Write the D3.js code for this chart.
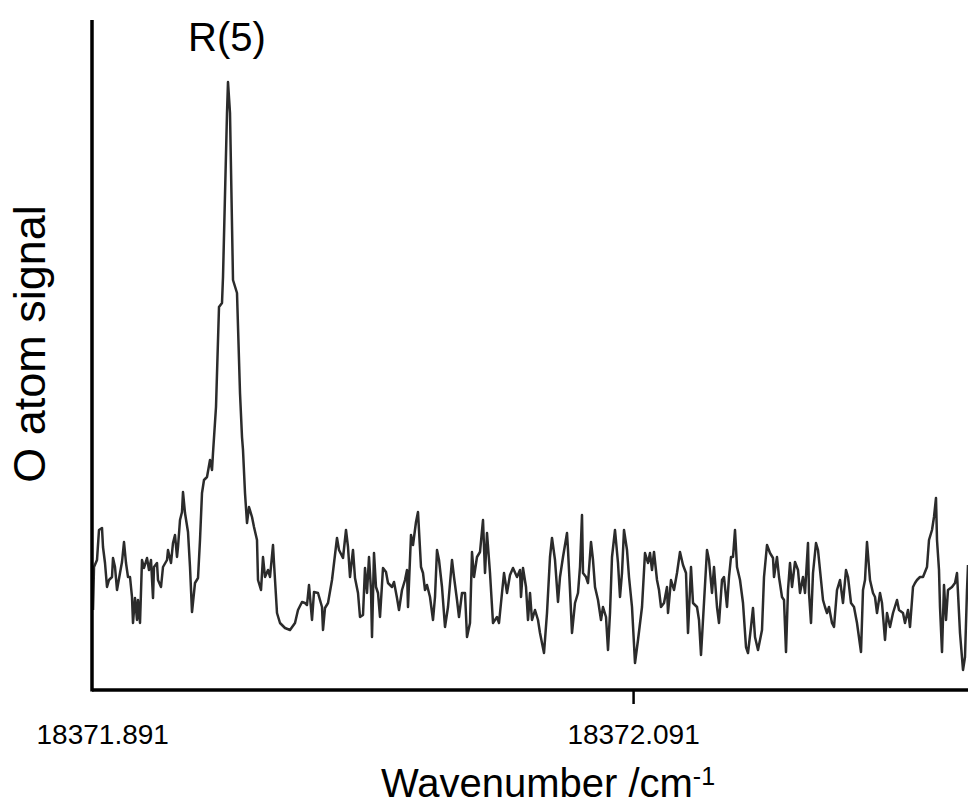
<!DOCTYPE html>
<html>
<head>
<meta charset="utf-8">
<script src="https://cdn.jsdelivr.net/npm/d3@7"></script>
<style>
  body { margin: 0; background: #fff; }
  text { font-family: "Liberation Sans", Arial, sans-serif; fill: #000; }
</style>
</head>
<body>
<div id="chart"></div>
<script>
// Dimensions of the graph
const width = 968;
const height = 807;
const margin = { top: 20, right: 0, bottom: 117, left: 92 };

// Scan step (detector channel) and O atom signal (arb. units)
const scanStep = [
  0, 1, 4, 6, 9, 10, 12, 14, 16, 19, 20, 22, 24, 27, 29, 31, 33, 35, 37, 39,
  40, 42, 44, 45, 47, 49, 51, 54, 56, 58, 60, 61, 64, 65, 68, 70, 74, 75, 78, 80,
  82, 84, 85, 87, 89, 90, 92, 95, 97, 99, 102, 105, 107, 109, 111, 114, 117, 119, 120, 123,
  126, 129, 130, 134, 135, 137, 140, 144, 147, 149, 150, 152, 154, 156, 159, 161, 164, 165, 168, 170,
  172, 175, 177, 180, 181, 184, 187, 192, 197, 202, 205, 209, 212, 214, 216, 219, 221, 225, 229, 230,
  232, 235, 239, 244, 246, 250, 253, 255, 257, 260, 262, 265, 267, 270, 272, 274, 276, 278, 279, 281,
  283, 285, 287, 290, 293, 295, 299, 301, 304, 306, 309, 312, 314, 315, 318, 320, 323, 325, 328, 330,
  332, 334, 337, 340, 342, 344, 346, 349, 352, 355, 359, 361, 364, 366, 369, 372, 374, 377, 379, 381,
  384, 387, 390, 392, 394, 397, 400, 404, 406, 409, 411, 414, 417, 420, 424, 427, 428, 430, 433, 435,
  437, 439, 442, 445, 447, 451, 454, 457, 459, 462, 465, 467, 470, 474, 475, 477, 479, 482, 485, 487,
  489, 490, 493, 495, 498, 500, 502, 505, 508, 510, 513, 515, 517, 519, 522, 525, 527, 529, 531, 534,
  536, 539, 542, 545, 549, 552, 555, 557, 559, 561, 564, 566, 568, 571, 574, 575, 578, 581, 584, 587,
  590, 593, 595, 598, 600, 604, 606, 608, 610, 614, 616, 619, 621, 624, 626, 629, 631, 634, 636, 638,
  640, 642, 644, 647, 650, 653, 655, 658, 660, 662, 665, 669, 671, 674, 677, 680, 681, 684, 686, 689,
  691, 693, 695, 697, 699, 702, 705, 707, 710, 712, 715, 716, 718, 720, 723, 725, 728, 730, 732, 734,
  736, 739, 741, 744, 747, 750, 753, 755, 758, 761, 764, 768, 770, 772, 774, 777, 780, 782, 784, 787,
  789, 792, 794, 797, 800, 804, 806, 810, 812, 815, 817, 820, 822, 824, 827, 830, 834, 836, 839, 841,
  843, 844, 846, 847, 849, 851, 853, 855, 859, 862, 864, 867, 870, 872, 874, 875
];
const signal = [
  78, 121, 128, 158, 160, 141, 125, 101, 108, 111, 130, 121, 98, 115, 126, 146, 125, 111, 111, 91,
  65, 90, 68, 88, 65, 128, 120, 130, 118, 128, 90, 121, 125, 108, 101, 121, 128, 138, 125, 145,
  153, 131, 141, 168, 176, 196, 175, 156, 121, 76, 105, 110, 148, 195, 208, 211, 228, 218, 235, 281,
  381, 385, 411, 575, 606, 575, 408, 395, 295, 251, 238, 195, 165, 181, 171, 161, 148, 108, 98, 131,
  111, 118, 111, 143, 125, 75, 65, 60, 58, 65, 78, 86, 85, 83, 103, 68, 96, 95, 81, 58,
  80, 85, 108, 150, 138, 130, 158, 141, 111, 138, 110, 95, 71, 73, 120, 95, 131, 98, 51, 135,
  101, 95, 71, 120, 116, 105, 101, 106, 90, 78, 98, 108, 118, 81, 153, 143, 166, 176, 121, 115,
  98, 103, 91, 68, 91, 138, 128, 101, 61, 81, 128, 111, 88, 71, 95, 95, 51, 65, 136, 111,
  131, 136, 168, 115, 155, 115, 65, 71, 65, 95, 115, 95, 113, 120, 111, 118, 91, 120, 101, 68,
  95, 68, 78, 68, 55, 35, 75, 131, 150, 128, 86, 111, 131, 155, 138, 98, 55, 85, 95, 121,
  173, 115, 111, 105, 146, 128, 101, 88, 68, 81, 71, 38, 75, 131, 158, 125, 91, 115, 158, 138,
  111, 81, 25, 48, 81, 135, 125, 135, 118, 136, 108, 98, 81, 85, 101, 75, 108, 98, 115, 136,
  123, 115, 55, 121, 85, 81, 68, 33, 68, 138, 128, 95, 121, 81, 65, 108, 111, 81, 111, 131,
  131, 158, 121, 108, 85, 41, 35, 61, 80, 51, 38, 58, 111, 143, 135, 130, 111, 131, 111, 91,
  88, 36, 98, 125, 101, 126, 118, 95, 111, 95, 145, 95, 65, 115, 145, 138, 108, 88, 81, 75,
  81, 65, 61, 98, 108, 85, 118, 111, 85, 81, 65, 36, 98, 108, 146, 108, 95, 91, 75, 95,
  85, 48, 75, 61, 75, 88, 78, 75, 65, 78, 61, 101, 105, 108, 111, 111, 121, 148, 158, 171,
  190, 148, 118, 81, 36, 103, 68, 98, 101, 105, 115, 55, 18, 31, 98, 123
];

// Axis ticks
const tickValues = [18371.891, 18372.091];
const tickLabels = ["18371.891", "18372.091"];

const data = scanStep.map((s, i) => ({ step: s, value: signal[i] }));

const svg = d3
  .select("#chart")
  .append("svg")
  .attr("width", width)
  .attr("height", height);

const plotW = width - margin.left - margin.right;
const plotH = height - margin.top - margin.bottom;

const g = svg
  .append("g")
  .attr("transform", `translate(${margin.left}, ${margin.top})`);

// Scales: scan step -> px, wavenumber -> px (same range), signal -> px
const stepScale = d3.scaleLinear().domain([-1, 875]).range([0, plotW]);
const xScale = d3
  .scaleLinear()
  .domain([18371.88715, 18372.21718])
  .range([0, plotW]);
const yScale = d3.scaleLinear().domain([-2, 668]).range([plotH, 0]);

// Trace
const line = d3
  .line()
  .x((d) => stepScale(d.step))
  .y((d) => yScale(d.value));

g.append("path")
  .datum(data)
  .attr("d", line)
  .style("fill", "none")
  .style("stroke", "#2b2b2b")
  .style("stroke-width", 2.5)
  .style("stroke-linejoin", "round");

// x axis: only the right tick mark is visible, the left one sits on the y axis
const xAxis = g
  .append("g")
  .attr("transform", `translate(0, ${plotH})`)
  .call(
    d3.axisBottom(xScale)
      .tickValues(tickValues)
      .tickFormat((d, i) => tickLabels[i])
      .tickSize(14)
      .tickPadding(20)
  );
xAxis.select(".domain").remove();
xAxis.selectAll(".tick line")
  .style("stroke", "#000")
  .style("stroke-width", 2.5)
  .style("display", (d, i) => (i === 0 ? "none" : null));
xAxis.selectAll(".tick text")
  .style("font-size", "28px")
  .style("font-family", "Liberation Sans, Arial, sans-serif")
  .attr("dy", "0.72em");

xAxis.append("line")
  .attr("x1", 0)
  .attr("x2", plotW)
  .style("stroke", "#000")
  .style("stroke-width", 3.5);

// y axis line (no ticks)
g.append("line")
  .attr("x1", 0)
  .attr("x2", 0)
  .attr("y1", 0)
  .attr("y2", plotH + 1.5)
  .style("stroke", "#000")
  .style("stroke-width", 3.5);

// Labels
svg.append("text")
  .attr("x", 548)
  .attr("y", 797)
  .attr("text-anchor", "middle")
  .style("font-size", "40px")
  .text("Wavenumber /cm")
  .append("tspan")
  .attr("dy", "-0.5em")
  .style("font-size", "25px")
  .text("-1");

svg.append("text")
  .attr("transform", "translate(45, 344) rotate(-90)")
  .attr("text-anchor", "middle")
  .style("font-size", "45px")
  .text("O atom signal");

svg.append("text")
  .attr("x", 227)
  .attr("y", 51)
  .attr("text-anchor", "middle")
  .style("font-size", "40px")
  .text("R(5)");
</script>
</body>
</html>
